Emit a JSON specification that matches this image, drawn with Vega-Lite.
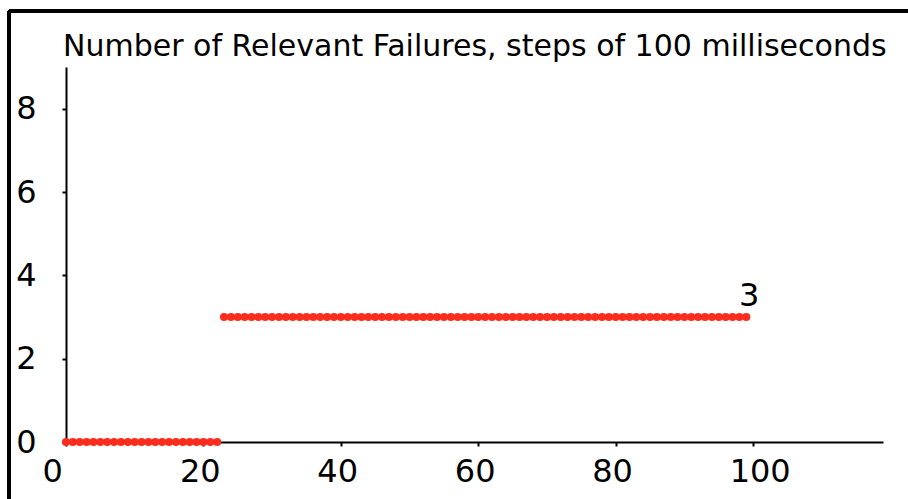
{
  "$schema": "https://vega.github.io/schema/vega-lite/v6.json",
  "autosize": "none",
  "width": 817,
  "height": 375,
  "padding": {"left": 66, "top": 67, "right": 25, "bottom": 57},
  "background": "white",
  "config": {"view": {"stroke": null}, "font": "DejaVu Sans"},
  "title": {
    "text": "Number of Relevant Failures, steps of 100 milliseconds",
    "anchor": "start",
    "frame": "group",
    "font": "DejaVu Sans",
    "fontSize": 30,
    "fontWeight": "normal",
    "color": "black",
    "baseline": "alphabetic",
    "offset": -76,
    "dx": -3
  },
  "data": {
    "values": [
      {"x": 0, "y": 0}, {"x": 1, "y": 0}, {"x": 2, "y": 0}, {"x": 3, "y": 0}, {"x": 4, "y": 0},
      {"x": 5, "y": 0}, {"x": 6, "y": 0}, {"x": 7, "y": 0}, {"x": 8, "y": 0}, {"x": 9, "y": 0},
      {"x": 10, "y": 0}, {"x": 11, "y": 0}, {"x": 12, "y": 0}, {"x": 13, "y": 0}, {"x": 14, "y": 0},
      {"x": 15, "y": 0}, {"x": 16, "y": 0}, {"x": 17, "y": 0}, {"x": 18, "y": 0}, {"x": 19, "y": 0},
      {"x": 20, "y": 0}, {"x": 21, "y": 0}, {"x": 22, "y": 0},
      {"x": 23, "y": 3}, {"x": 24, "y": 3}, {"x": 25, "y": 3}, {"x": 26, "y": 3}, {"x": 27, "y": 3},
      {"x": 28, "y": 3}, {"x": 29, "y": 3}, {"x": 30, "y": 3}, {"x": 31, "y": 3}, {"x": 32, "y": 3},
      {"x": 33, "y": 3}, {"x": 34, "y": 3}, {"x": 35, "y": 3}, {"x": 36, "y": 3}, {"x": 37, "y": 3},
      {"x": 38, "y": 3}, {"x": 39, "y": 3}, {"x": 40, "y": 3}, {"x": 41, "y": 3}, {"x": 42, "y": 3},
      {"x": 43, "y": 3}, {"x": 44, "y": 3}, {"x": 45, "y": 3}, {"x": 46, "y": 3}, {"x": 47, "y": 3},
      {"x": 48, "y": 3}, {"x": 49, "y": 3}, {"x": 50, "y": 3}, {"x": 51, "y": 3}, {"x": 52, "y": 3},
      {"x": 53, "y": 3}, {"x": 54, "y": 3}, {"x": 55, "y": 3}, {"x": 56, "y": 3}, {"x": 57, "y": 3},
      {"x": 58, "y": 3}, {"x": 59, "y": 3}, {"x": 60, "y": 3}, {"x": 61, "y": 3}, {"x": 62, "y": 3},
      {"x": 63, "y": 3}, {"x": 64, "y": 3}, {"x": 65, "y": 3}, {"x": 66, "y": 3}, {"x": 67, "y": 3},
      {"x": 68, "y": 3}, {"x": 69, "y": 3}, {"x": 70, "y": 3}, {"x": 71, "y": 3}, {"x": 72, "y": 3},
      {"x": 73, "y": 3}, {"x": 74, "y": 3}, {"x": 75, "y": 3}, {"x": 76, "y": 3}, {"x": 77, "y": 3},
      {"x": 78, "y": 3}, {"x": 79, "y": 3}, {"x": 80, "y": 3}, {"x": 81, "y": 3}, {"x": 82, "y": 3},
      {"x": 83, "y": 3}, {"x": 84, "y": 3}, {"x": 85, "y": 3}, {"x": 86, "y": 3}, {"x": 87, "y": 3},
      {"x": 88, "y": 3}, {"x": 89, "y": 3}, {"x": 90, "y": 3}, {"x": 91, "y": 3}, {"x": 92, "y": 3},
      {"x": 93, "y": 3}, {"x": 94, "y": 3}, {"x": 95, "y": 3}, {"x": 96, "y": 3}, {"x": 97, "y": 3},
      {"x": 98, "y": 3}, {"x": 99, "y": 3}
    ]
  },
  "encoding": {
    "x": {
      "field": "x",
      "type": "quantitative",
      "scale": {"domain": [0, 118.9], "nice": false, "zero": false},
      "axis": {
        "title": null,
        "values": [0, 20, 40, 60, 80, 100],
        "grid": false,
        "domainColor": "black",
        "domainWidth": 2,
        "tickColor": "black",
        "tickWidth": 2,
        "tickSize": 4,
        "labelFont": "DejaVu Sans",
        "labelFontSize": 32,
        "labelColor": "black",
        "labelAlign": "left",
        "labelOffset": -24,
        "labelPadding": 10,
        "labelFlush": false,
        "labelOverlap": false
      }
    },
    "y": {
      "field": "y",
      "type": "quantitative",
      "scale": {"domain": [0, 9], "nice": false, "zero": false},
      "axis": {
        "title": null,
        "values": [0, 2, 4, 6, 8],
        "grid": false,
        "domainColor": "black",
        "domainWidth": 2,
        "tickColor": "black",
        "tickWidth": 2,
        "tickSize": 4,
        "labelFont": "DejaVu Sans",
        "labelFontSize": 32,
        "labelColor": "black",
        "labelPadding": 26,
        "labelFlush": false,
        "labelOverlap": false
      }
    }
  },
  "layer": [
    {
      "mark": {"type": "circle", "size": 66, "color": "#ff2b1c", "opacity": 1}
    },
    {
      "transform": [{"filter": {"field": "x", "equal": 99}}],
      "mark": {
        "type": "text",
        "font": "DejaVu Sans",
        "fontSize": 32,
        "color": "black",
        "align": "center",
        "baseline": "alphabetic",
        "dx": 3,
        "dy": -11
      },
      "encoding": {"text": {"field": "y", "type": "quantitative"}}
    },
    {
      "mark": {"type": "rule", "color": "black", "strokeWidth": 3},
      "encoding": {
        "x": {"datum": -8.3},
        "y": {"datum": 10.34},
        "y2": {"datum": -1.7}
      }
    },
    {
      "mark": {"type": "rule", "color": "black", "strokeWidth": 3},
      "encoding": {
        "x": {"datum": -8.3},
        "x2": {"datum": 123},
        "y": {"datum": 10.34}
      }
    }
  ]
}
